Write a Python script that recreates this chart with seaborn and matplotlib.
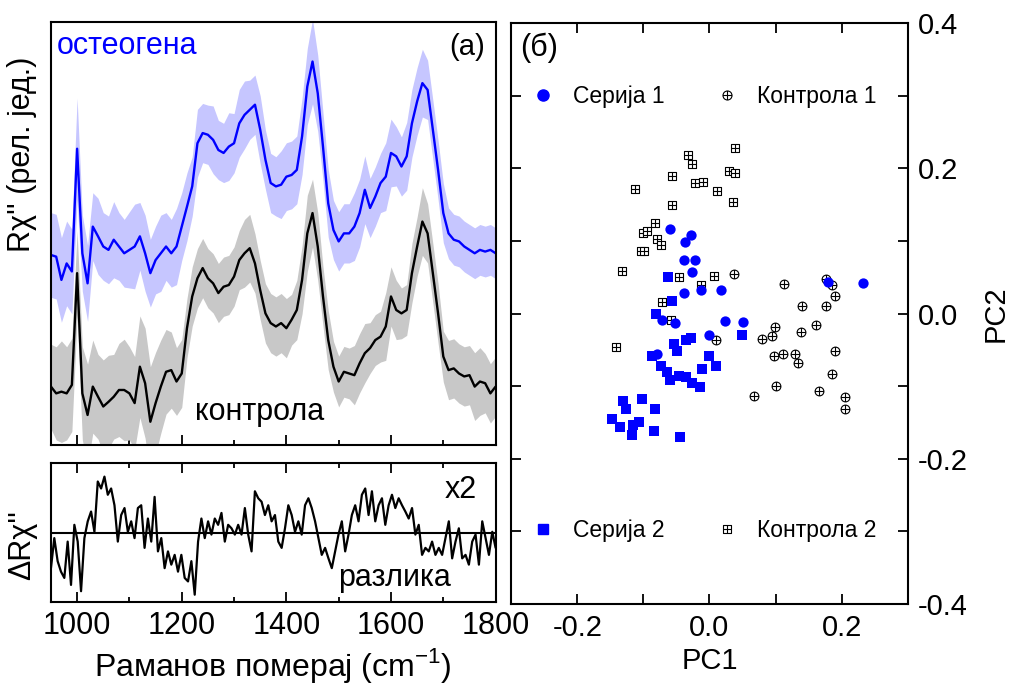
import numpy as np
import pandas as pd
import seaborn as sns
import matplotlib.pyplot as plt
from matplotlib.path import Path
from matplotlib.lines import Line2D
from matplotlib.ticker import MultipleLocator, FormatStrFormatter

# ---- spectra (panel a), 10 cm-1 steps ----
shift = np.arange(950, 1801, 10)
osteo = [0.449, 0.445, 0.390, 0.429, 0.410, 0.700, 0.453, 0.382, 0.516, 0.493,
         0.469, 0.461, 0.485, 0.469, 0.453, 0.461, 0.469, 0.493, 0.453, 0.406,
         0.437, 0.453, 0.469, 0.453, 0.469, 0.516, 0.563, 0.611, 0.713, 0.737,
         0.733, 0.721, 0.697, 0.690, 0.705, 0.713, 0.760, 0.780, 0.792, 0.804,
         0.745, 0.674, 0.619, 0.611, 0.615, 0.634, 0.638, 0.650, 0.729, 0.847,
         0.906, 0.831, 0.705, 0.571, 0.508, 0.481, 0.500, 0.500, 0.516, 0.548,
         0.603, 0.560, 0.587, 0.619, 0.634, 0.690, 0.682, 0.658, 0.682, 0.760,
         0.812, 0.855, 0.839, 0.745, 0.650, 0.548, 0.500, 0.485, 0.481, 0.469,
         0.461, 0.453, 0.461, 0.457, 0.461, 0.453]
osteo_sd = [0.10, 0.10, 0.10, 0.10, 0.10, 0.12,
            0.09, 0.09, 0.08, 0.09, 0.08, 0.08, 0.09, 0.08, 0.08, 0.09, 0.10, 0.08,
            0.09, 0.08, 0.08, 0.09, 0.08, 0.08, 0.09,
            0.08, 0.08, 0.07, 0.08, 0.07, 0.07, 0.08, 0.07, 0.07, 0.08, 0.07, 0.08,
            0.08, 0.07, 0.07, 0.08,
            0.07, 0.07, 0.07, 0.08, 0.08, 0.08, 0.08, 0.09, 0.09,
            0.10, 0.09, 0.08,
            0.08, 0.07, 0.07, 0.07, 0.07, 0.08, 0.08, 0.08, 0.07, 0.07, 0.07, 0.08, 0.08,
            0.07, 0.07, 0.08, 0.08, 0.08, 0.08, 0.07, 0.07, 0.07,
            0.07, 0.06, 0.06, 0.06, 0.06, 0.06, 0.06, 0.06, 0.06, 0.06, 0.06]
control = [0.138, 0.122, 0.126, 0.122, 0.142, 0.406, 0.122, 0.071, 0.138, 0.114,
           0.091, 0.102, 0.114, 0.130, 0.130, 0.122, 0.099, 0.185, 0.146, 0.055,
           0.099, 0.138, 0.173, 0.177, 0.150, 0.169, 0.276, 0.351, 0.394, 0.418,
           0.394, 0.382, 0.359, 0.374, 0.378, 0.398, 0.437, 0.453, 0.465, 0.429,
           0.366, 0.311, 0.288, 0.280, 0.288, 0.276, 0.296, 0.319, 0.390, 0.500,
           0.548, 0.469, 0.351, 0.248, 0.185, 0.150, 0.173, 0.169, 0.165, 0.193,
           0.217, 0.229, 0.248, 0.256, 0.280, 0.351, 0.319, 0.311, 0.319, 0.406,
           0.469, 0.528, 0.500, 0.406, 0.311, 0.209, 0.177, 0.181, 0.169, 0.162,
           0.165, 0.138, 0.150, 0.146, 0.122, 0.138]
control_sd = [0.10, 0.11, 0.12, 0.11, 0.11, 0.10, 0.11, 0.12, 0.11, 0.10,
              0.11, 0.11, 0.10, 0.11, 0.12, 0.11, 0.11, 0.12, 0.13, 0.13,
              0.12, 0.11, 0.10, 0.09, 0.08,
              0.08, 0.07, 0.07, 0.07, 0.07, 0.07, 0.07, 0.07, 0.07, 0.07, 0.07, 0.07,
              0.08, 0.08, 0.07, 0.07,
              0.07, 0.07, 0.07, 0.07, 0.07, 0.06, 0.07, 0.08, 0.09, 0.08, 0.08, 0.07,
              0.07, 0.06, 0.06, 0.06, 0.06, 0.07, 0.07, 0.07, 0.06, 0.06, 0.06, 0.08, 0.07,
              0.07, 0.06, 0.06, 0.07, 0.07, 0.08, 0.07, 0.07, 0.07, 0.06,
              0.07, 0.07, 0.07, 0.07, 0.07, 0.08, 0.08, 0.07, 0.07, 0.07]

# difference spectrum (x2)
diff = [-0.50, -0.07, -0.40, -0.55, -0.64, -0.12, -0.74, 0.12, -0.12, -0.83,
        -0.07, 0.17, 0.31, 0.02, 0.74, 0.64, 0.81, 0.55, 0.64, 0.40,
        -0.12, 0.26, 0.36, 0.02, 0.17, -0.07, 0.36, 0.40, -0.21, 0.21,
        -0.12, 0.52, -0.26, -0.07, -0.50, -0.26, -0.45, -0.31, -0.55, -0.31,
        -0.64, -0.69, -0.40, -0.88, -0.12, 0.21, -0.07, 0.17, -0.02, 0.21,
        0.12, 0.29, -0.12, 0.12, 0.07, -0.02, 0.12, -0.02, 0.36, -0.02,
        -0.26, 0.60, 0.50, 0.45, 0.26, 0.40, 0.17, 0.26, -0.12, -0.21,
        0.07, 0.40, 0.26, 0.02, 0.17, -0.02, 0.40, 0.50, 0.36, 0.17,
        -0.07, -0.31, -0.21, -0.36, -0.50, -0.26, -0.02, 0.17, -0.26, -0.02,
        0.26, 0.40, 0.17, 0.55, 0.64, 0.26, 0.60, 0.17, 0.40, 0.50,
        0.12, 0.40, 0.55, 0.36, 0.50, 0.40, 0.31, 0.21, 0.36, -0.02,
        0.12, -0.31, -0.21, -0.26, -0.12, -0.31, -0.21, -0.31, -0.07, 0.17,
        -0.36, -0.12, 0.07, -0.36, -0.31, -0.45, -0.12, -0.02, -0.45, 0.17,
        -0.07, -0.31, 0.02, -0.21]
diff_shift = np.linspace(950, 1800, len(diff))

# ---- PCA scores (panel b) ----
s1_pc1 = [-0.060, -0.028, -0.037, -0.039, -0.022, -0.027, -0.039, -0.013, 0.018,
          0.179, 0.233, -0.072, -0.052, 0.024, 0.051, 0.000, -0.079]
s1_pc2 = [0.116, 0.108, 0.098, 0.074, 0.074, 0.057, 0.028, 0.033, 0.032,
          0.044, 0.042, -0.009, -0.013, -0.011, -0.012, -0.030, -0.056]
s2_pc1 = [-0.063, -0.057, -0.081, 0.049, -0.054, -0.049, -0.036, -0.028, -0.087,
          0.000, 0.010, -0.074, -0.012, -0.065, -0.046, -0.036, -0.060, -0.027,
          -0.014, -0.131, -0.102, -0.126, -0.083, -0.148, -0.135, -0.116, -0.106,
          -0.117, -0.084, -0.044]
s2_pc2 = [0.050, 0.017, 0.000, -0.029, -0.042, -0.051, -0.036, -0.034, -0.059,
          -0.059, -0.072, -0.072, -0.076, -0.080, -0.086, -0.087, -0.092, -0.096,
          -0.101, -0.120, -0.118, -0.131, -0.132, -0.145, -0.156, -0.154, -0.149,
          -0.167, -0.162, -0.170]
c1_pc1 = [0.037, 0.113, 0.176, 0.186, 0.190, 0.140, 0.176, 0.010, 0.099, 0.094,
          0.079, 0.138, 0.161, 0.190, 0.098, 0.111, 0.130, 0.134, 0.186, 0.100,
          0.068, 0.166, 0.205, 0.205]
c1_pc2 = [0.055, 0.040, 0.048, 0.039, 0.024, 0.010, 0.011, -0.037, -0.018, -0.031,
          -0.035, -0.025, -0.016, -0.051, -0.058, -0.056, -0.056, -0.068, -0.083,
          -0.100, -0.113, -0.107, -0.115, -0.131]
c2_pc1 = [-0.113, -0.056, -0.032, -0.026, -0.022, -0.010, 0.012, 0.029, 0.039,
          0.038, 0.036, -0.057, -0.083, -0.101, -0.094, -0.079, -0.073, -0.103,
          -0.099, -0.132, -0.046, 0.007, -0.013, -0.072, -0.058, -0.142]
c2_pc2 = [0.172, 0.190, 0.218, 0.206, 0.180, 0.181, 0.169, 0.196, 0.194,
          0.228, 0.154, 0.149, 0.125, 0.111, 0.113, 0.103, 0.095, 0.086,
          0.086, 0.058, 0.050, 0.052, 0.039, 0.016, -0.009, -0.046]

sns.set_theme(style="ticks")
plt.rcParams["font.family"] = ["Liberation Sans", "DejaVu Sans"]
plt.rcParams["mathtext.fontset"] = "custom"
plt.rcParams["mathtext.rm"] = "Liberation Sans"
plt.rcParams["axes.unicode_minus"] = False
plt.rcParams["axes.linewidth"] = 1.5
for key in ["text.color", "axes.labelcolor", "axes.edgecolor", "xtick.color", "ytick.color"]:
    plt.rcParams[key] = "black"

BLUE = "#0000ff"

fig = plt.figure(figsize=(10.09, 6.86), dpi=100)
ax1 = fig.add_axes([0.0505, 0.3513, 0.4407, 0.6170])
ax2 = fig.add_axes([0.0505, 0.1229, 0.4407, 0.2017])
ax3 = fig.add_axes([0.5067, 0.1195, 0.3929, 0.8470])

# panel (a)
df = pd.DataFrame({"shift": shift, "osteo": osteo, "control": control,
                   "osteo_sd": osteo_sd, "control_sd": control_sd})
ax1.fill_between(df["shift"], df["osteo"] - df["osteo_sd"], df["osteo"] + df["osteo_sd"],
                 color="#c6c6ff", lw=0)
ax1.fill_between(df["shift"], df["control"] - df["control_sd"], df["control"] + df["control_sd"],
                 color="#c8c8c8", lw=0)
sns.lineplot(data=df, x="shift", y="osteo", ax=ax1, color=BLUE, lw=1.7)
sns.lineplot(data=df, x="shift", y="control", ax=ax1, color="black", lw=1.7)
ax1.set_xlim(950, 1800)
ax1.set_ylim(0, 1)
ax1.set_yticks([])
ax1.set_xlabel("")
ax1.set_ylabel("")
ax1.xaxis.set_major_locator(MultipleLocator(200))
ax1.xaxis.set_minor_locator(MultipleLocator(100))
ax1.tick_params(axis="x", which="major", direction="in", length=7, width=1.3, labelbottom=False)
ax1.tick_params(axis="x", which="minor", direction="in", length=3.5, width=1.3)
ax1.text(0.012, 0.943, "остеогена", color=BLUE, fontsize=22, transform=ax1.transAxes,
         ha="left", va="center")
ax1.text(0.976, 0.94, "(а)", fontsize=21, transform=ax1.transAxes, ha="right", va="center")
ax1.text(0.469, 0.078, "контрола", fontsize=22, transform=ax1.transAxes, ha="center", va="center")

# difference
ddf = pd.DataFrame({"shift": diff_shift, "diff": diff})
sns.lineplot(data=ddf, x="shift", y="diff", ax=ax2, color="black", lw=1.6)
ax2.axhline(0, color="black", lw=1.5)
ax2.set_xlim(950, 1800)
ax2.set_ylim(-0.98, 1.0)
ax2.set_yticks([])
ax2.set_ylabel("")
ax2.xaxis.set_major_locator(MultipleLocator(200))
ax2.xaxis.set_minor_locator(MultipleLocator(100))
ax2.tick_params(axis="x", which="major", direction="in", length=7, width=1.3, top=True,
                labelsize=22, pad=7)
ax2.tick_params(axis="x", which="minor", direction="in", length=3.5, width=1.3, top=True)
ax2.set_xlabel("Раманов померај (cm$^{-1}$)", fontsize=23, labelpad=3)
ax2.text(0.958, 0.81, "x2", fontsize=22, transform=ax2.transAxes, ha="right", va="center")
ax2.text(0.773, 0.17, "разлика", fontsize=22, transform=ax2.transAxes, ha="center", va="center")

fig.text(0.022, 0.775, "Rχ'' (рел. јед.)", rotation=90, fontsize=22, ha="center", va="center")
fig.text(0.022, 0.205, "ΔRχ''", rotation=90, fontsize=22, ha="center", va="center")

# panel (b)
circ_plus = Path.make_compound_path(
    Path.unit_circle(),
    Path([[-1, 0], [1, 0]], [Path.MOVETO, Path.LINETO]),
    Path([[0, -1], [0, 1]], [Path.MOVETO, Path.LINETO]))
sq = [[-1, -1], [1, -1], [1, 1], [-1, 1], [-1, -1]]
box_plus = Path.make_compound_path(
    Path(sq, [Path.MOVETO] + [Path.LINETO] * 3 + [Path.CLOSEPOLY]),
    Path([[-1, 0], [1, 0]], [Path.MOVETO, Path.LINETO]),
    Path([[0, -1], [0, 1]], [Path.MOVETO, Path.LINETO]))

sns.scatterplot(x=c2_pc1, y=c2_pc2, ax=ax3, marker=box_plus, s=28, facecolor="white",
                edgecolor="black", linewidth=0.8, zorder=3)
sns.scatterplot(x=c1_pc1, y=c1_pc2, ax=ax3, marker=circ_plus, s=40, facecolor="white",
                edgecolor="black", linewidth=0.8, zorder=3)
sns.scatterplot(x=s2_pc1, y=s2_pc2, ax=ax3, marker="s", s=42, color=BLUE, edgecolor=BLUE,
                linewidth=0, zorder=4)
sns.scatterplot(x=s1_pc1, y=s1_pc2, ax=ax3, marker="o", s=55, color=BLUE, edgecolor=BLUE,
                linewidth=0, zorder=4)

ax3.set_xlim(-0.3, 0.3)
ax3.set_ylim(-0.4, 0.4)
ax3.xaxis.set_major_locator(MultipleLocator(0.2))
ax3.xaxis.set_minor_locator(MultipleLocator(0.1))
ax3.yaxis.set_major_locator(MultipleLocator(0.2))
ax3.yaxis.set_minor_locator(MultipleLocator(0.1))
ax3.xaxis.set_major_formatter(FormatStrFormatter("%.1f"))
ax3.yaxis.set_major_formatter(FormatStrFormatter("%.1f"))
ax3.tick_params(which="both", direction="in", length=7, width=1.3, top=True, right=True,
                left=True, bottom=True, labelleft=False, labelright=True, labelsize=21, pad=7)
ax3.set_xlabel("PC1", fontsize=21, labelpad=4)
ax3.yaxis.set_label_position("right")
ax3.set_ylabel("PC2", fontsize=21, labelpad=10)
ax3.text(0.022, 0.957, "(б)", fontsize=22, transform=ax3.transAxes, ha="left", va="center")

h_s1 = Line2D([], [], marker="o", ls="", color=BLUE, markersize=8)
h_c1 = Line2D([], [], marker=circ_plus, ls="", mfc="white", mec="black", markersize=6.5, mew=0.8)
h_s2 = Line2D([], [], marker="s", ls="", color=BLUE, markersize=7)
h_c2 = Line2D([], [], marker=box_plus, ls="", mfc="white", mec="black", markersize=5.5, mew=0.8)
leg_kw = dict(ncol=2, frameon=False, fontsize=16.5, loc="center left", borderpad=0,
              borderaxespad=0, handlelength=1.0, handletextpad=0.8, columnspacing=2.25)
leg1 = ax3.legend([h_s1, h_c1], ["Серија 1", "Контрола 1"], bbox_to_anchor=(0.051, 0.873), **leg_kw)
ax3.add_artist(leg1)
ax3.legend([h_s2, h_c2], ["Серија 2", "Контрола 2"], bbox_to_anchor=(0.051, 0.126), **leg_kw)

fig.savefig("out.png", dpi=100)
